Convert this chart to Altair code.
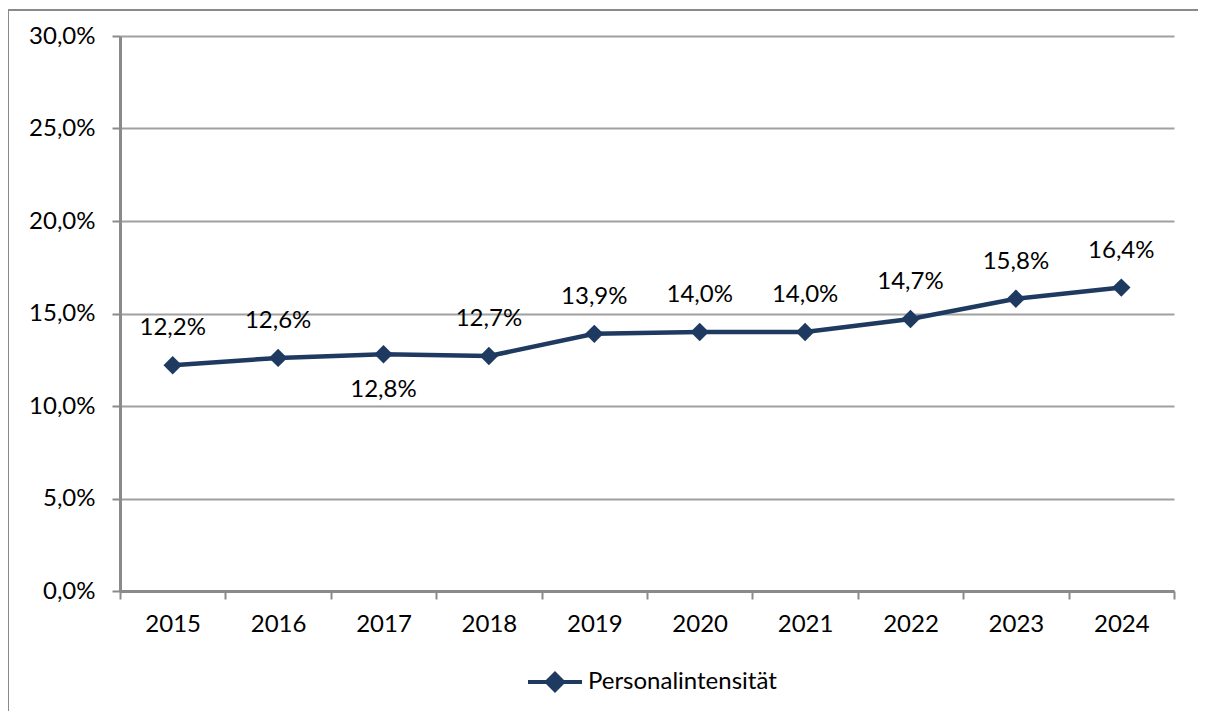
import altair as alt
import pandas as pd

years = ["2015", "2016", "2017", "2018", "2019", "2020", "2021", "2022", "2023", "2024"]
values = [12.2, 12.6, 12.8, 12.7, 13.9, 14.0, 14.0, 14.7, 15.8, 16.4]
series_name = "Personalintensität"
below_years = ["2017"]

df = pd.DataFrame({"year": years, "value": values, "series": [series_name] * len(years)})
df["label"] = [f"{v:.1f}".replace(".", ",") + "%" for v in values]

FONT = "Lato"
FS = 24
NAVY = "#1F3A60"
GRID = "#a0a0a0"
AXIS = "#8a8a8a"

x = alt.X("year:O", title=None, sort=years,
          scale=alt.Scale(type="band", paddingInner=0, paddingOuter=0),
          axis=alt.Axis(labelAngle=0, tickBand="extent", ticks=True, tickSize=8,
                        tickColor=AXIS, tickWidth=2, domainColor=AXIS, domainWidth=3,
                        labelFont=FONT, labelFontSize=FS, labelColor="#000",
                        labelPadding=13, grid=False))
y = alt.Y("value:Q", title=None,
          scale=alt.Scale(domain=[0, 30], nice=False),
          axis=alt.Axis(values=[0, 5, 10, 15, 20, 25, 30], tickSize=8, tickColor=AXIS,
                        tickWidth=2, domainColor=AXIS, domainWidth=3,
                        gridColor=GRID, gridWidth=2, grid=True,
                        labelExpr="replace(format(datum.value, '.1f'), '.', ',') + '%'",
                        labelFont=FONT, labelFontSize=FS, labelColor="#000",
                        labelPadding=17))

color = alt.Color("series:N", title=None,
                  scale=alt.Scale(domain=[series_name], range=[NAVY]),
                  legend=alt.Legend(orient="none", legendX=406, legendY=617,
                                    symbolType="M-1,0L1,0M-0.3,0L0,-0.3L0.3,0L0,0.3Z",
                                    symbolSize=2916, symbolStrokeWidth=4,
                                    symbolFillColor=NAVY, symbolStrokeColor=NAVY,
                                    labelFont=FONT, labelFontSize=FS, labelColor="#000",
                                    labelLimit=400, labelOffset=4))

base = alt.Chart(df)

line = base.mark_line(strokeWidth=4.5).encode(x=x, y=y, color=color)
points = base.mark_point(shape="diamond", filled=True, size=340, opacity=1).encode(
    x=x, y=y, color=alt.Color("series:N", scale=alt.Scale(domain=[series_name], range=[NAVY]), legend=None))

labels_above = base.transform_filter(
    alt.FieldOneOfPredicate(field="year", oneOf=below_years).__invert__()
).mark_text(font=FONT, fontSize=FS, color="#000", dy=-37, baseline="middle").encode(
    x=x, y=y, text="label:N")
labels_below = base.transform_filter(
    alt.FieldOneOfPredicate(field="year", oneOf=below_years)
).mark_text(font=FONT, fontSize=FS, color="#000", dy=36, baseline="middle").encode(
    x=x, y=y, text="label:N")

frame_data = alt.Data(values=[{"k": 1}])
frame_top = alt.Chart(frame_data).mark_rule(color=AXIS, strokeWidth=2, clip=False).encode(
    x=alt.value(-112), x2=alt.value(1080), y=alt.value(-26))
frame_left = alt.Chart(frame_data).mark_rule(color=AXIS, strokeWidth=2, clip=False).encode(
    x=alt.value(-112), y=alt.value(-26), y2=alt.value(680))

chart = alt.layer(frame_top, frame_left, line, points, labels_above, labels_below).properties(
    width=1054, height=555,
    autosize=alt.AutoSizeParams(type="none"),
    padding={"left": 112, "top": 28, "right": 24, "bottom": 120},
).configure_view(stroke=None)

chart.save("out.html", embed_options={"renderer": "svg", "actions": False})
